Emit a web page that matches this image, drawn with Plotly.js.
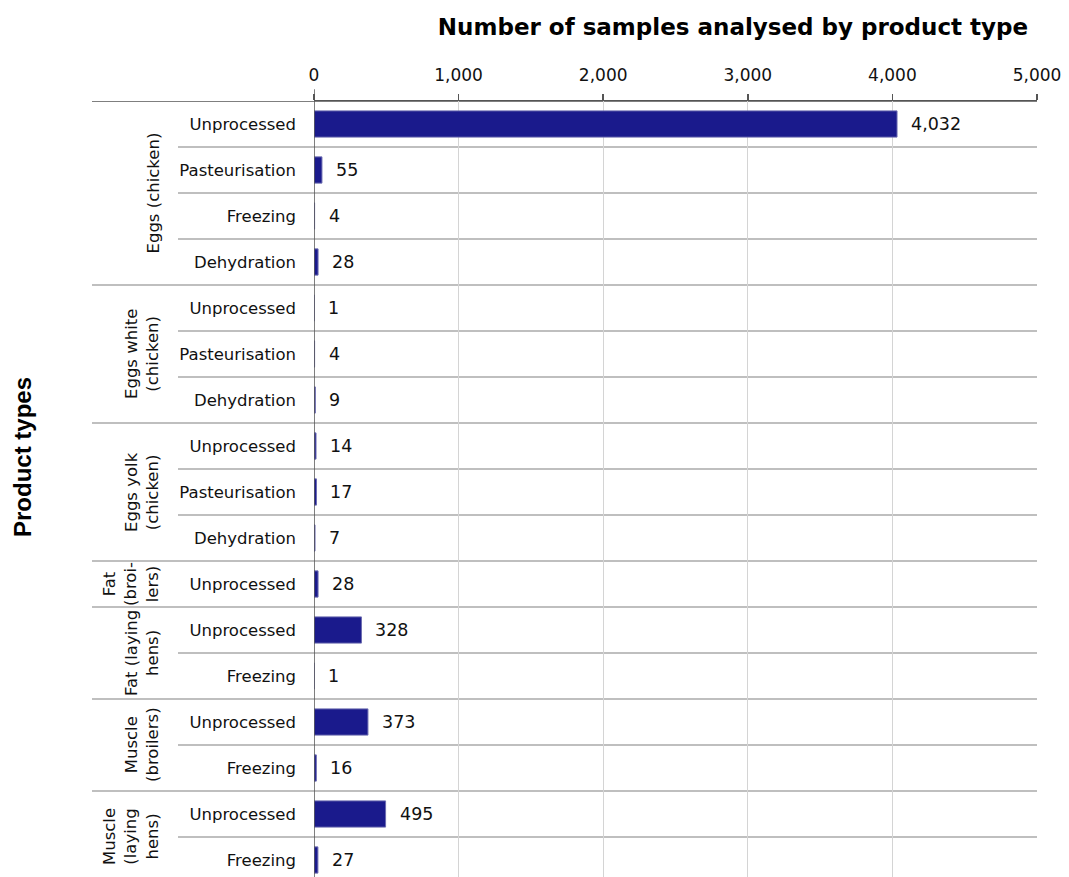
<!DOCTYPE html>
<html>
<head>
<meta charset="utf-8">
<script src="https://cdn.plot.ly/plotly-3.0.1.min.js"></script>
<style>
html,body{margin:0;padding:0;overflow:hidden;background:#fff;}
#chart{width:1069px;height:890px;}
</style>
</head>
<body>
<div id="chart"></div>
<script>
// Data
var groups = ["Eggs (chicken)", "Eggs white (chicken)", "Eggs yolk (chicken)", "Fat (broilers)", "Fat (laying hens)", "Muscle (broilers)", "Muscle (laying hens)"];
var groupLabels = ["Eggs (chicken)", "Eggs white<br>(chicken)", "Eggs yolk<br>(chicken)", "Fat<br>(broi-<br>lers)", "Fat (laying<br>hens)", "Muscle<br>(broilers)", "Muscle<br>(laying<br>hens)"];
var eggsChickenTypes = ["Unprocessed", "Pasteurisation", "Freezing", "Dehydration"];
var eggsChickenValues = [4032, 55, 4, 28];
var eggsWhiteTypes = ["Unprocessed", "Pasteurisation", "Dehydration"];
var eggsWhiteValues = [1, 4, 9];
var eggsYolkTypes = ["Unprocessed", "Pasteurisation", "Dehydration"];
var eggsYolkValues = [14, 17, 7];
var fatBroilersTypes = ["Unprocessed"];
var fatBroilersValues = [28];
var fatLayingTypes = ["Unprocessed", "Freezing"];
var fatLayingValues = [328, 1];
var muscleBroilersTypes = ["Unprocessed", "Freezing"];
var muscleBroilersValues = [373, 16];
var muscleLayingTypes = ["Unprocessed", "Freezing"];
var muscleLayingValues = [495, 27];
var xTickVals = [0, 1000, 2000, 3000, 4000, 5000];
var xTickText = ["0", "1,000", "2,000", "3,000", "4,000", "5,000"];

var typeLists = [eggsChickenTypes, eggsWhiteTypes, eggsYolkTypes, fatBroilersTypes, fatLayingTypes, muscleBroilersTypes, muscleLayingTypes];
var valueLists = [eggsChickenValues, eggsWhiteValues, eggsYolkValues, fatBroilersValues, fatLayingValues, muscleBroilersValues, muscleLayingValues];

var yIdx = [], xVals = [], yText = [];
var groupStarts = [], groupEnds = [];
var idx = 0;
for (var g = 0; g < groups.length; g++) {
  groupStarts.push(idx);
  for (var k = 0; k < typeLists[g].length; k++) {
    yIdx.push(idx);
    xVals.push(valueLists[g][k]);
    yText.push(typeLists[g][k]);
    idx++;
  }
  groupEnds.push(idx - 1);
}
var nRows = idx;

function fmt(v){ return v.toString().replace(/\B(?=(\d{3})+(?!\d))/g, ","); }

var FONT = "DejaVu Sans, Verdana, sans-serif";

var trace = {
  type: "bar",
  orientation: "h",
  x: xVals,
  y: yIdx,
  marker: {color: "#1a1a8c", line: {color: "#6b6bb0", width: 1}},
  hoverinfo: "x+y"
};

// Layout geometry (pixels)
var L = 314, R = 1037, T = 101, H = 890;
var plotW = R - L;
var labelLeft = 92, subLeft = 178;

var shapes = [];
var annotations = [];

// row separators
for (var i = 0; i <= nRows; i++) {
  var isGroupEdge = groupStarts.indexOf(i) >= 0 || i === nRows;
  var startPx = isGroupEdge ? labelLeft : subLeft;
  shapes.push({
    type: "line", layer: "below",
    xref: "paper", yref: "y",
    x0: (startPx - L) / plotW, x1: 1,
    y0: i - 0.5, y1: i - 0.5,
    line: {color: i === 0 ? "#555555" : "#808080", width: i === 0 ? 1.5 : 1.2}
  });
}
// zero axis line
shapes.push({type: "line", xref: "x", yref: "paper", x0: 0, x1: 0, y0: 0, y1: 1.015,
  line: {color: "#555555", width: 1.5}});

// value labels
for (var j = 0; j < xVals.length; j++) {
  annotations.push({
    x: xVals[j], y: yIdx[j], xref: "x", yref: "y",
    text: fmt(xVals[j]), showarrow: false,
    xanchor: "left", yanchor: "middle", xshift: 12,
    font: {family: FONT, size: 17.5, color: "#111"}
  });
}
// group labels
for (var g2 = 0; g2 < groups.length; g2++) {
  annotations.push({
    xref: "paper", yref: "y",
    x: (164 - L) / plotW, y: (groupStarts[g2] + groupEnds[g2]) / 2,
    text: groupLabels[g2], textangle: -90, showarrow: false,
    xanchor: "right", yanchor: "middle",
    font: {family: FONT, size: 16.5, color: "#111"}
  });
}
// y axis title
annotations.push({
  xref: "paper", yref: "paper",
  x: (23 - L) / plotW, y: (H - 7 - 457) / (H - 7 - T) ,
  text: "<b>Product types</b>", textangle: -90, showarrow: false,
  xanchor: "center", yanchor: "middle",
  font: {family: "Liberation Sans, Arial, sans-serif", size: 24, color: "#000"}
});

var layout = {
  width: 1069, height: H,
  margin: {l: L, r: 1069 - R, t: T, b: 7, pad: 0},
  paper_bgcolor: "#ffffff", plot_bgcolor: "#ffffff",
  showlegend: false,
  bargap: 0.43,
  title: {
    text: "<b>Number of samples analysed by product type</b>",
    xref: "paper", x: (733 - L) / plotW, xanchor: "center",
    yref: "container", y: 1 - 27 / H, yanchor: "middle",
    font: {family: FONT, size: 23, color: "#000"}
  },
  xaxis: {
    side: "top", range: [0, 5000],
    tickvals: xTickVals, ticktext: xTickText,
    ticks: "outside", ticklen: 6, tickcolor: "#555", tickwidth: 1.5,
    showline: true, linecolor: "#555", linewidth: 1.5,
    showgrid: true, gridcolor: "#d4d4d4", gridwidth: 1,
    zeroline: false,
    tickfont: {family: FONT, size: 17, color: "#111"},
    ticklabelstandoff: 6,
    fixedrange: true
  },
  yaxis: {
    range: [nRows - 0.5, -0.5],
    tickvals: yIdx, ticktext: yText,
    ticks: "", showgrid: false, zeroline: false, showline: false,
    tickfont: {family: FONT, size: 16.5, color: "#111"},
    ticklabelstandoff: 17,
    fixedrange: true
  },
  shapes: shapes,
  annotations: annotations
};

Plotly.newPlot("chart", [trace], layout, {displayModeBar: false, staticPlot: true});
</script>
</body>
</html>
